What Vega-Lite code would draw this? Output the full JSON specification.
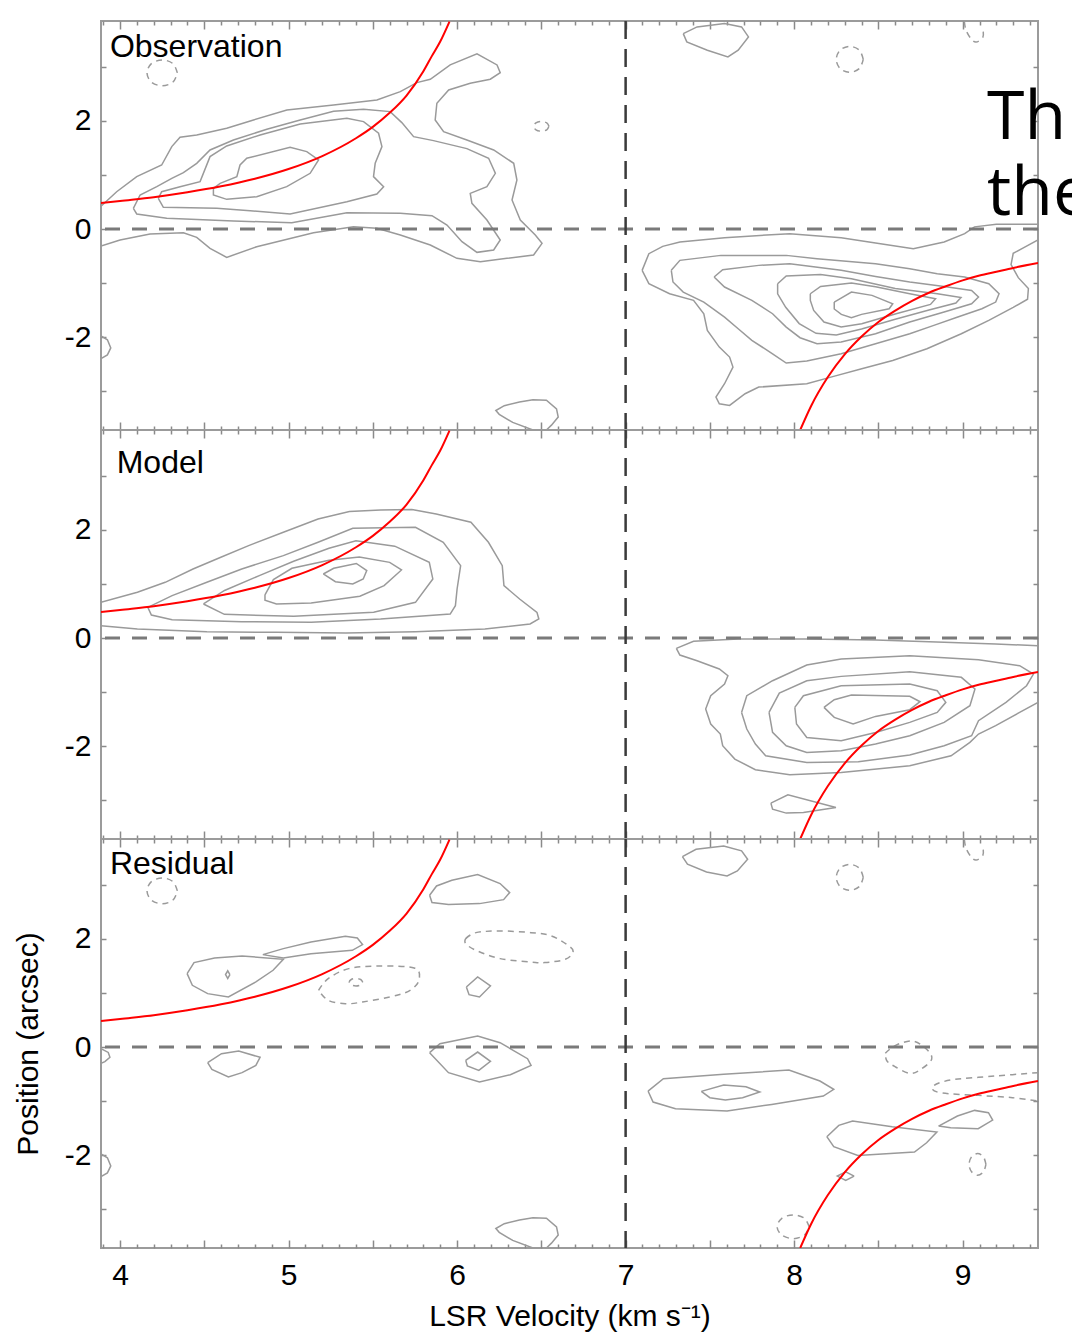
{
  "$schema": "https://vega.github.io/schema/vega-lite/v6.json",
  "padding": {"left": 12, "top": 18, "right": 0, "bottom": 0},
  "spacing": 0,
  "bounds": "flush",
  "config": {
    "view": {"stroke": "#9b9b9b", "strokeWidth": 2},
    "axis": {
      "domain": false, "grid": false,
      "tickColor": "#8a8a8a", "tickWidth": 1.5,
      "labelFont": "Liberation Sans", "labelFontSize": 30, "labelColor": "#000000",
      "titleFont": "Liberation Sans", "titleFontSize": 30, "titleFontWeight": "normal", "titleColor": "#000000"
    },
    "text": {"font": "Liberation Sans"}
  },
  "datasets": {
    "curve": [
      {"b": "blue", "v": 3.887, "p": 0.48}, {"b": "blue", "v": 4.0, "p": 0.52}, {"b": "blue", "v": 4.2, "p": 0.59},
      {"b": "blue", "v": 4.4, "p": 0.68}, {"b": "blue", "v": 4.6, "p": 0.79}, {"b": "blue", "v": 4.8, "p": 0.93},
      {"b": "blue", "v": 5.0, "p": 1.11}, {"b": "blue", "v": 5.2, "p": 1.35}, {"b": "blue", "v": 5.4, "p": 1.68},
      {"b": "blue", "v": 5.5, "p": 1.89}, {"b": "blue", "v": 5.6, "p": 2.15}, {"b": "blue", "v": 5.7, "p": 2.47},
      {"b": "blue", "v": 5.8, "p": 2.92}, {"b": "blue", "v": 5.85, "p": 3.2}, {"b": "blue", "v": 5.9, "p": 3.47},
      {"b": "blue", "v": 5.955, "p": 3.84},
      {"b": "red", "v": 8.036, "p": -3.72}, {"b": "red", "v": 8.1, "p": -3.28}, {"b": "red", "v": 8.2, "p": -2.74},
      {"b": "red", "v": 8.3, "p": -2.32}, {"b": "red", "v": 8.4, "p": -1.99}, {"b": "red", "v": 8.5, "p": -1.72},
      {"b": "red", "v": 8.6, "p": -1.51}, {"b": "red", "v": 8.7, "p": -1.33}, {"b": "red", "v": 8.8, "p": -1.18},
      {"b": "red", "v": 8.9, "p": -1.06}, {"b": "red", "v": 9.0, "p": -0.95}, {"b": "red", "v": 9.1, "p": -0.86},
      {"b": "red", "v": 9.2, "p": -0.79}, {"b": "red", "v": 9.3, "p": -0.72}, {"b": "red", "v": 9.447, "p": -0.63}
    ],
    "obs_solid": [
      {"c": "L1", "v": 3.887, "p": 0.42}, {"c": "L1", "v": 3.98, "p": 0.69}, {"c": "L1", "v": 4.099, "p": 0.97},
      {"c": "L1", "v": 4.247, "p": 1.185}, {"c": "L1", "v": 4.307, "p": 1.525}, {"c": "L1", "v": 4.356, "p": 1.698},
      {"c": "L1", "v": 4.455, "p": 1.741}, {"c": "L1", "v": 4.633, "p": 1.864}, {"c": "L1", "v": 4.792, "p": 2.019},
      {"c": "L1", "v": 4.99, "p": 2.204}, {"c": "L1", "v": 5.267, "p": 2.296}, {"c": "L1", "v": 5.524, "p": 2.389},
      {"c": "L1", "v": 5.663, "p": 2.543}, {"c": "L1", "v": 5.761, "p": 2.71}, {"c": "L1", "v": 5.841, "p": 2.772},
      {"c": "L1", "v": 5.959, "p": 3.037}, {"c": "L1", "v": 6.118, "p": 3.241}, {"c": "L1", "v": 6.237, "p": 3.037},
      {"c": "L1", "v": 6.256, "p": 2.895}, {"c": "L1", "v": 6.197, "p": 2.772}, {"c": "L1", "v": 6.078, "p": 2.698},
      {"c": "L1", "v": 5.95, "p": 2.574}, {"c": "L1", "v": 5.88, "p": 2.327}, {"c": "L1", "v": 5.87, "p": 2.019},
      {"c": "L1", "v": 5.92, "p": 1.802}, {"c": "L1", "v": 6.058, "p": 1.648}, {"c": "L1", "v": 6.217, "p": 1.463},
      {"c": "L1", "v": 6.336, "p": 1.216}, {"c": "L1", "v": 6.355, "p": 0.907}, {"c": "L1", "v": 6.326, "p": 0.537},
      {"c": "L1", "v": 6.375, "p": 0.167}, {"c": "L1", "v": 6.464, "p": -0.111}, {"c": "L1", "v": 6.504, "p": -0.265},
      {"c": "L1", "v": 6.454, "p": -0.481}, {"c": "L1", "v": 6.296, "p": -0.543}, {"c": "L1", "v": 6.138, "p": -0.605},
      {"c": "L1", "v": 5.999, "p": -0.543}, {"c": "L1", "v": 5.841, "p": -0.296}, {"c": "L1", "v": 5.663, "p": -0.111},
      {"c": "L1", "v": 5.524, "p": 0.012}, {"c": "L1", "v": 5.385, "p": 0.043}, {"c": "L1", "v": 5.148, "p": -0.068},
      {"c": "L1", "v": 4.811, "p": -0.327}, {"c": "L1", "v": 4.633, "p": -0.525}, {"c": "L1", "v": 4.534, "p": -0.358},
      {"c": "L1", "v": 4.455, "p": -0.154}, {"c": "L1", "v": 4.376, "p": -0.068}, {"c": "L1", "v": 4.178, "p": -0.093},
      {"c": "L1", "v": 4.0, "p": -0.204}, {"c": "L1", "v": 3.887, "p": -0.315},

      {"c": "L2", "v": 4.079, "p": 0.383}, {"c": "L2", "v": 4.119, "p": 0.63}, {"c": "L2", "v": 4.218, "p": 0.784},
      {"c": "L2", "v": 4.307, "p": 0.938}, {"c": "L2", "v": 4.376, "p": 1.043}, {"c": "L2", "v": 4.455, "p": 1.216},
      {"c": "L2", "v": 4.534, "p": 1.463}, {"c": "L2", "v": 4.673, "p": 1.648}, {"c": "L2", "v": 4.871, "p": 1.846},
      {"c": "L2", "v": 5.069, "p": 2.019}, {"c": "L2", "v": 5.267, "p": 2.179}, {"c": "L2", "v": 5.445, "p": 2.216},
      {"c": "L2", "v": 5.603, "p": 2.173}, {"c": "L2", "v": 5.672, "p": 1.969}, {"c": "L2", "v": 5.742, "p": 1.71},
      {"c": "L2", "v": 5.86, "p": 1.636}, {"c": "L2", "v": 6.058, "p": 1.488}, {"c": "L2", "v": 6.187, "p": 1.309},
      {"c": "L2", "v": 6.227, "p": 1.031}, {"c": "L2", "v": 6.177, "p": 0.784}, {"c": "L2", "v": 6.078, "p": 0.66},
      {"c": "L2", "v": 6.088, "p": 0.475}, {"c": "L2", "v": 6.177, "p": 0.167}, {"c": "L2", "v": 6.256, "p": -0.204},
      {"c": "L2", "v": 6.217, "p": -0.389}, {"c": "L2", "v": 6.118, "p": -0.432}, {"c": "L2", "v": 6.029, "p": -0.235},
      {"c": "L2", "v": 5.94, "p": 0.074}, {"c": "L2", "v": 5.851, "p": 0.247}, {"c": "L2", "v": 5.663, "p": 0.29},
      {"c": "L2", "v": 5.346, "p": 0.302}, {"c": "L2", "v": 5.019, "p": 0.117}, {"c": "L2", "v": 4.673, "p": 0.148},
      {"c": "L2", "v": 4.277, "p": 0.198}, {"c": "L2", "v": 4.099, "p": 0.278}, {"c": "L2", "v": 4.079, "p": 0.383},

      {"c": "L3", "v": 4.227, "p": 0.568}, {"c": "L3", "v": 4.247, "p": 0.691}, {"c": "L3", "v": 4.356, "p": 0.784},
      {"c": "L3", "v": 4.475, "p": 0.877}, {"c": "L3", "v": 4.534, "p": 1.34}, {"c": "L3", "v": 4.633, "p": 1.537},
      {"c": "L3", "v": 4.831, "p": 1.741}, {"c": "L3", "v": 5.069, "p": 1.944}, {"c": "L3", "v": 5.346, "p": 2.049},
      {"c": "L3", "v": 5.445, "p": 1.988}, {"c": "L3", "v": 5.534, "p": 1.772}, {"c": "L3", "v": 5.554, "p": 1.525},
      {"c": "L3", "v": 5.514, "p": 1.216}, {"c": "L3", "v": 5.504, "p": 0.969}, {"c": "L3", "v": 5.564, "p": 0.784},
      {"c": "L3", "v": 5.524, "p": 0.648}, {"c": "L3", "v": 5.346, "p": 0.506}, {"c": "L3", "v": 5.009, "p": 0.278},
      {"c": "L3", "v": 4.772, "p": 0.34}, {"c": "L3", "v": 4.574, "p": 0.383}, {"c": "L3", "v": 4.257, "p": 0.401},
      {"c": "L3", "v": 4.227, "p": 0.568},

      {"c": "L4", "v": 4.554, "p": 0.753}, {"c": "L4", "v": 4.594, "p": 0.846}, {"c": "L4", "v": 4.693, "p": 0.969},
      {"c": "L4", "v": 4.712, "p": 1.185}, {"c": "L4", "v": 4.752, "p": 1.309}, {"c": "L4", "v": 5.009, "p": 1.512},
      {"c": "L4", "v": 5.108, "p": 1.432}, {"c": "L4", "v": 5.178, "p": 1.278}, {"c": "L4", "v": 5.128, "p": 1.031},
      {"c": "L4", "v": 4.989, "p": 0.784}, {"c": "L4", "v": 4.811, "p": 0.599}, {"c": "L4", "v": 4.633, "p": 0.549},
      {"c": "L4", "v": 4.554, "p": 0.63}, {"c": "L4", "v": 4.554, "p": 0.753},

      {"c": "R1", "v": 7.098, "p": -0.765}, {"c": "R1", "v": 7.138, "p": -0.457}, {"c": "R1", "v": 7.22, "p": -0.321},
      {"c": "R1", "v": 7.322, "p": -0.241}, {"c": "R1", "v": 7.587, "p": -0.16}, {"c": "R1", "v": 7.974, "p": -0.086},
      {"c": "R1", "v": 8.279, "p": -0.16}, {"c": "R1", "v": 8.483, "p": -0.259}, {"c": "R1", "v": 8.707, "p": -0.364},
      {"c": "R1", "v": 8.89, "p": -0.241}, {"c": "R1", "v": 9.012, "p": -0.086}, {"c": "R1", "v": 9.07, "p": 0.04},
      {"c": "R1", "v": 9.2, "p": 0.09}, {"c": "R1", "v": 9.447, "p": 0.09}, {"c": "R1", "v": 9.447, "p": -0.2},
      {"c": "R1", "v": 9.36, "p": -0.35}, {"c": "R1", "v": 9.3, "p": -0.45}, {"c": "R1", "v": 9.287, "p": -0.66},
      {"c": "R1", "v": 9.33, "p": -0.9}, {"c": "R1", "v": 9.39, "p": -1.1}, {"c": "R1", "v": 9.385, "p": -1.3},
      {"c": "R1", "v": 9.3, "p": -1.45}, {"c": "R1", "v": 9.155, "p": -1.691}, {"c": "R1", "v": 8.992, "p": -1.938},
      {"c": "R1", "v": 8.788, "p": -2.216}, {"c": "R1", "v": 8.585, "p": -2.432}, {"c": "R1", "v": 8.401, "p": -2.586},
      {"c": "R1", "v": 8.218, "p": -2.741}, {"c": "R1", "v": 8.075, "p": -2.864}, {"c": "R1", "v": 7.79, "p": -2.926},
      {"c": "R1", "v": 7.709, "p": -3.049}, {"c": "R1", "v": 7.617, "p": -3.265}, {"c": "R1", "v": 7.556, "p": -3.235},
      {"c": "R1", "v": 7.536, "p": -3.111}, {"c": "R1", "v": 7.587, "p": -2.864}, {"c": "R1", "v": 7.637, "p": -2.556},
      {"c": "R1", "v": 7.617, "p": -2.37}, {"c": "R1", "v": 7.556, "p": -2.185}, {"c": "R1", "v": 7.485, "p": -1.877},
      {"c": "R1", "v": 7.464, "p": -1.568}, {"c": "R1", "v": 7.403, "p": -1.321}, {"c": "R1", "v": 7.261, "p": -1.198},
      {"c": "R1", "v": 7.138, "p": -1.012}, {"c": "R1", "v": 7.098, "p": -0.765},

      {"c": "R2", "v": 7.271, "p": -0.765}, {"c": "R2", "v": 7.322, "p": -0.58}, {"c": "R2", "v": 7.566, "p": -0.488},
      {"c": "R2", "v": 7.953, "p": -0.488}, {"c": "R2", "v": 8.136, "p": -0.549}, {"c": "R2", "v": 8.483, "p": -0.642},
      {"c": "R2", "v": 8.686, "p": -0.735}, {"c": "R2", "v": 8.849, "p": -0.827}, {"c": "R2", "v": 9.012, "p": -0.889},
      {"c": "R2", "v": 9.155, "p": -1.012}, {"c": "R2", "v": 9.216, "p": -1.198}, {"c": "R2", "v": 9.196, "p": -1.352},
      {"c": "R2", "v": 9.114, "p": -1.475}, {"c": "R2", "v": 8.971, "p": -1.63}, {"c": "R2", "v": 8.829, "p": -1.784},
      {"c": "R2", "v": 8.686, "p": -1.938}, {"c": "R2", "v": 8.483, "p": -2.123}, {"c": "R2", "v": 8.279, "p": -2.309},
      {"c": "R2", "v": 8.075, "p": -2.444}, {"c": "R2", "v": 7.953, "p": -2.481}, {"c": "R2", "v": 7.872, "p": -2.309},
      {"c": "R2", "v": 7.749, "p": -2.062}, {"c": "R2", "v": 7.668, "p": -1.846}, {"c": "R2", "v": 7.587, "p": -1.63},
      {"c": "R2", "v": 7.464, "p": -1.352}, {"c": "R2", "v": 7.342, "p": -1.167}, {"c": "R2", "v": 7.281, "p": -0.981},
      {"c": "R2", "v": 7.271, "p": -0.765},

      {"c": "R3", "v": 7.525, "p": -0.889}, {"c": "R3", "v": 7.576, "p": -0.753}, {"c": "R3", "v": 7.79, "p": -0.673},
      {"c": "R3", "v": 7.974, "p": -0.642}, {"c": "R3", "v": 8.279, "p": -0.765}, {"c": "R3", "v": 8.483, "p": -0.877},
      {"c": "R3", "v": 8.686, "p": -0.981}, {"c": "R3", "v": 8.89, "p": -1.062}, {"c": "R3", "v": 9.053, "p": -1.136},
      {"c": "R3", "v": 9.094, "p": -1.259}, {"c": "R3", "v": 9.053, "p": -1.383}, {"c": "R3", "v": 8.89, "p": -1.537},
      {"c": "R3", "v": 8.686, "p": -1.722}, {"c": "R3", "v": 8.483, "p": -1.938}, {"c": "R3", "v": 8.279, "p": -2.093},
      {"c": "R3", "v": 8.136, "p": -2.123}, {"c": "R3", "v": 8.035, "p": -2.012}, {"c": "R3", "v": 7.953, "p": -1.815},
      {"c": "R3", "v": 7.872, "p": -1.568}, {"c": "R3", "v": 7.749, "p": -1.321}, {"c": "R3", "v": 7.587, "p": -1.074},
      {"c": "R3", "v": 7.525, "p": -0.889},

      {"c": "R4", "v": 7.902, "p": -1.012}, {"c": "R4", "v": 7.953, "p": -0.87}, {"c": "R4", "v": 8.157, "p": -0.84},
      {"c": "R4", "v": 8.34, "p": -0.92}, {"c": "R4", "v": 8.6, "p": -1.1}, {"c": "R4", "v": 8.85, "p": -1.2},
      {"c": "R4", "v": 8.99, "p": -1.27}, {"c": "R4", "v": 8.96, "p": -1.37}, {"c": "R4", "v": 8.8, "p": -1.5},
      {"c": "R4", "v": 8.6, "p": -1.67}, {"c": "R4", "v": 8.4, "p": -1.85}, {"c": "R4", "v": 8.25, "p": -1.96},
      {"c": "R4", "v": 8.13, "p": -1.93}, {"c": "R4", "v": 8.03, "p": -1.75}, {"c": "R4", "v": 7.95, "p": -1.45},
      {"c": "R4", "v": 7.902, "p": -1.2}, {"c": "R4", "v": 7.902, "p": -1.012},

      {"c": "R5", "v": 8.096, "p": -1.198}, {"c": "R5", "v": 8.157, "p": -1.062}, {"c": "R5", "v": 8.34, "p": -1.0},
      {"c": "R5", "v": 8.483, "p": -1.07}, {"c": "R5", "v": 8.686, "p": -1.2}, {"c": "R5", "v": 8.839, "p": -1.29},
      {"c": "R5", "v": 8.809, "p": -1.395}, {"c": "R5", "v": 8.605, "p": -1.568}, {"c": "R5", "v": 8.401, "p": -1.753},
      {"c": "R5", "v": 8.279, "p": -1.815}, {"c": "R5", "v": 8.177, "p": -1.722}, {"c": "R5", "v": 8.116, "p": -1.506},
      {"c": "R5", "v": 8.096, "p": -1.321}, {"c": "R5", "v": 8.096, "p": -1.198},

      {"c": "R6", "v": 8.238, "p": -1.352}, {"c": "R6", "v": 8.34, "p": -1.167}, {"c": "R6", "v": 8.462, "p": -1.228},
      {"c": "R6", "v": 8.585, "p": -1.383}, {"c": "R6", "v": 8.564, "p": -1.475}, {"c": "R6", "v": 8.4, "p": -1.58},
      {"c": "R6", "v": 8.34, "p": -1.64}, {"c": "R6", "v": 8.28, "p": -1.58}, {"c": "R6", "v": 8.238, "p": -1.48},
      {"c": "R6", "v": 8.238, "p": -1.352},

      {"c": "T1", "v": 7.342, "p": 3.617}, {"c": "T1", "v": 7.424, "p": 3.741}, {"c": "T1", "v": 7.587, "p": 3.802},
      {"c": "T1", "v": 7.688, "p": 3.741}, {"c": "T1", "v": 7.729, "p": 3.556}, {"c": "T1", "v": 7.668, "p": 3.309},
      {"c": "T1", "v": 7.607, "p": 3.185}, {"c": "T1", "v": 7.485, "p": 3.309}, {"c": "T1", "v": 7.363, "p": 3.463},
      {"c": "T1", "v": 7.342, "p": 3.617},

      {"c": "S1", "v": 6.45, "p": -3.72}, {"c": "S1", "v": 6.33, "p": -3.58}, {"c": "S1", "v": 6.25, "p": -3.43},
      {"c": "S1", "v": 6.23, "p": -3.36}, {"c": "S1", "v": 6.28, "p": -3.27}, {"c": "S1", "v": 6.37, "p": -3.2},
      {"c": "S1", "v": 6.45, "p": -3.16}, {"c": "S1", "v": 6.53, "p": -3.17}, {"c": "S1", "v": 6.59, "p": -3.33},
      {"c": "S1", "v": 6.6, "p": -3.48}, {"c": "S1", "v": 6.56, "p": -3.63}, {"c": "S1", "v": 6.53, "p": -3.72},

      {"c": "E1", "v": 3.887, "p": -1.98}, {"c": "E1", "v": 3.925, "p": -2.05}, {"c": "E1", "v": 3.945, "p": -2.2},
      {"c": "E1", "v": 3.925, "p": -2.33}, {"c": "E1", "v": 3.887, "p": -2.4}
    ],
    "obs_dashed": [
      {"c": "A", "v": 4.34, "p": 2.89}, {"c": "A", "v": 4.314, "p": 3.06}, {"c": "A", "v": 4.25, "p": 3.13},
      {"c": "A", "v": 4.186, "p": 3.06}, {"c": "A", "v": 4.16, "p": 2.89}, {"c": "A", "v": 4.186, "p": 2.72},
      {"c": "A", "v": 4.25, "p": 2.65}, {"c": "A", "v": 4.314, "p": 2.72}, {"c": "A", "v": 4.34, "p": 2.89},
      {"c": "B", "v": 8.41, "p": 3.14}, {"c": "B", "v": 8.387, "p": 3.31}, {"c": "B", "v": 8.33, "p": 3.38},
      {"c": "B", "v": 8.273, "p": 3.31}, {"c": "B", "v": 8.25, "p": 3.14}, {"c": "B", "v": 8.273, "p": 2.97},
      {"c": "B", "v": 8.33, "p": 2.9}, {"c": "B", "v": 8.387, "p": 2.97}, {"c": "B", "v": 8.41, "p": 3.14},
      {"c": "C", "v": 6.545, "p": 1.9}, {"c": "C", "v": 6.532, "p": 1.964}, {"c": "C", "v": 6.5, "p": 1.99},
      {"c": "C", "v": 6.468, "p": 1.964}, {"c": "C", "v": 6.455, "p": 1.9}, {"c": "C", "v": 6.468, "p": 1.836},
      {"c": "C", "v": 6.5, "p": 1.81}, {"c": "C", "v": 6.532, "p": 1.836}, {"c": "C", "v": 6.545, "p": 1.9},
      {"c": "TR", "v": 9.01, "p": 3.84}, {"c": "TR", "v": 9.02, "p": 3.68}, {"c": "TR", "v": 9.05, "p": 3.52},
      {"c": "TR", "v": 9.08, "p": 3.46}, {"c": "TR", "v": 9.12, "p": 3.55}, {"c": "TR", "v": 9.12, "p": 3.7}
    ],
    "mod_solid": [
      {"c": "M1", "v": 3.887, "p": 0.66}, {"c": "M1", "v": 4.103, "p": 0.846}, {"c": "M1", "v": 4.268, "p": 1.031},
      {"c": "M1", "v": 4.433, "p": 1.278}, {"c": "M1", "v": 4.598, "p": 1.494}, {"c": "M1", "v": 4.763, "p": 1.71},
      {"c": "M1", "v": 4.969, "p": 1.957}, {"c": "M1", "v": 5.175, "p": 2.204}, {"c": "M1", "v": 5.361, "p": 2.34},
      {"c": "M1", "v": 5.546, "p": 2.37}, {"c": "M1", "v": 5.732, "p": 2.377}, {"c": "M1", "v": 5.876, "p": 2.296},
      {"c": "M1", "v": 6.082, "p": 2.142}, {"c": "M1", "v": 6.186, "p": 1.772}, {"c": "M1", "v": 6.268, "p": 1.34},
      {"c": "M1", "v": 6.278, "p": 0.969}, {"c": "M1", "v": 6.371, "p": 0.722}, {"c": "M1", "v": 6.474, "p": 0.475},
      {"c": "M1", "v": 6.485, "p": 0.352}, {"c": "M1", "v": 6.433, "p": 0.259}, {"c": "M1", "v": 6.165, "p": 0.167},
      {"c": "M1", "v": 5.753, "p": 0.117}, {"c": "M1", "v": 5.34, "p": 0.093}, {"c": "M1", "v": 4.928, "p": 0.105},
      {"c": "M1", "v": 4.515, "p": 0.117}, {"c": "M1", "v": 4.103, "p": 0.167}, {"c": "M1", "v": 3.887, "p": 0.228},

      {"c": "M2", "v": 4.165, "p": 0.568}, {"c": "M2", "v": 4.309, "p": 0.784}, {"c": "M2", "v": 4.515, "p": 1.031},
      {"c": "M2", "v": 4.722, "p": 1.278}, {"c": "M2", "v": 4.969, "p": 1.525}, {"c": "M2", "v": 5.175, "p": 1.772},
      {"c": "M2", "v": 5.381, "p": 2.031}, {"c": "M2", "v": 5.753, "p": 2.049}, {"c": "M2", "v": 5.918, "p": 1.772},
      {"c": "M2", "v": 6.021, "p": 1.34}, {"c": "M2", "v": 6.0, "p": 0.907}, {"c": "M2", "v": 5.99, "p": 0.599},
      {"c": "M2", "v": 5.959, "p": 0.444}, {"c": "M2", "v": 5.546, "p": 0.352}, {"c": "M2", "v": 5.134, "p": 0.29},
      {"c": "M2", "v": 4.722, "p": 0.302}, {"c": "M2", "v": 4.309, "p": 0.34}, {"c": "M2", "v": 4.186, "p": 0.426},
      {"c": "M2", "v": 4.165, "p": 0.568},

      {"c": "M3", "v": 4.495, "p": 0.63}, {"c": "M3", "v": 4.62, "p": 0.88}, {"c": "M3", "v": 4.83, "p": 1.16},
      {"c": "M3", "v": 5.03, "p": 1.42}, {"c": "M3", "v": 5.24, "p": 1.66}, {"c": "M3", "v": 5.4, "p": 1.8},
      {"c": "M3", "v": 5.63, "p": 1.7}, {"c": "M3", "v": 5.835, "p": 1.401}, {"c": "M3", "v": 5.856, "p": 1.093},
      {"c": "M3", "v": 5.753, "p": 0.66}, {"c": "M3", "v": 5.505, "p": 0.475}, {"c": "M3", "v": 5.031, "p": 0.401},
      {"c": "M3", "v": 4.619, "p": 0.438}, {"c": "M3", "v": 4.495, "p": 0.63},

      {"c": "M4", "v": 4.86, "p": 0.8}, {"c": "M4", "v": 4.91, "p": 1.08}, {"c": "M4", "v": 5.02, "p": 1.29},
      {"c": "M4", "v": 5.24, "p": 1.44}, {"c": "M4", "v": 5.42, "p": 1.5}, {"c": "M4", "v": 5.6, "p": 1.4},
      {"c": "M4", "v": 5.67, "p": 1.26}, {"c": "M4", "v": 5.567, "p": 0.969}, {"c": "M4", "v": 5.423, "p": 0.772},
      {"c": "M4", "v": 5.134, "p": 0.65}, {"c": "M4", "v": 4.928, "p": 0.63}, {"c": "M4", "v": 4.86, "p": 0.7},
      {"c": "M4", "v": 4.86, "p": 0.8},

      {"c": "M5", "v": 5.206, "p": 1.185}, {"c": "M5", "v": 5.268, "p": 1.29}, {"c": "M5", "v": 5.402, "p": 1.38},
      {"c": "M5", "v": 5.464, "p": 1.247}, {"c": "M5", "v": 5.443, "p": 1.093}, {"c": "M5", "v": 5.381, "p": 1.0},
      {"c": "M5", "v": 5.278, "p": 1.043}, {"c": "M5", "v": 5.206, "p": 1.185},

      {"c": "N1", "v": 7.301, "p": -0.191}, {"c": "N1", "v": 7.403, "p": -0.062}, {"c": "N1", "v": 7.668, "p": -0.019},
      {"c": "N1", "v": 8.075, "p": -0.019}, {"c": "N1", "v": 8.483, "p": -0.037}, {"c": "N1", "v": 8.89, "p": -0.08},
      {"c": "N1", "v": 9.196, "p": -0.111}, {"c": "N1", "v": 9.447, "p": -0.142}, {"c": "N1", "v": 9.447, "p": -1.191},
      {"c": "N1", "v": 9.338, "p": -1.377}, {"c": "N1", "v": 9.196, "p": -1.623}, {"c": "N1", "v": 9.094, "p": -1.778},
      {"c": "N1", "v": 9.043, "p": -1.932}, {"c": "N1", "v": 8.931, "p": -2.179}, {"c": "N1", "v": 8.686, "p": -2.364},
      {"c": "N1", "v": 8.279, "p": -2.488}, {"c": "N1", "v": 7.974, "p": -2.531}, {"c": "N1", "v": 7.77, "p": -2.438},
      {"c": "N1", "v": 7.648, "p": -2.241}, {"c": "N1", "v": 7.576, "p": -1.994}, {"c": "N1", "v": 7.562, "p": -1.778},
      {"c": "N1", "v": 7.505, "p": -1.593}, {"c": "N1", "v": 7.475, "p": -1.315}, {"c": "N1", "v": 7.505, "p": -1.068},
      {"c": "N1", "v": 7.587, "p": -0.852}, {"c": "N1", "v": 7.607, "p": -0.698}, {"c": "N1", "v": 7.556, "p": -0.574},
      {"c": "N1", "v": 7.424, "p": -0.42}, {"c": "N1", "v": 7.322, "p": -0.315}, {"c": "N1", "v": 7.301, "p": -0.191},

      {"c": "N2", "v": 7.688, "p": -1.377}, {"c": "N2", "v": 7.719, "p": -1.068}, {"c": "N2", "v": 7.872, "p": -0.79},
      {"c": "N2", "v": 8.075, "p": -0.5}, {"c": "N2", "v": 8.279, "p": -0.389}, {"c": "N2", "v": 8.686, "p": -0.327},
      {"c": "N2", "v": 9.094, "p": -0.401}, {"c": "N2", "v": 9.338, "p": -0.512}, {"c": "N2", "v": 9.42, "p": -0.667},
      {"c": "N2", "v": 9.379, "p": -0.883}, {"c": "N2", "v": 9.257, "p": -1.191}, {"c": "N2", "v": 9.094, "p": -1.531},
      {"c": "N2", "v": 9.053, "p": -1.809}, {"c": "N2", "v": 8.89, "p": -1.994}, {"c": "N2", "v": 8.686, "p": -2.167},
      {"c": "N2", "v": 8.381, "p": -2.29}, {"c": "N2", "v": 8.075, "p": -2.302}, {"c": "N2", "v": 7.831, "p": -2.179},
      {"c": "N2", "v": 7.77, "p": -1.963}, {"c": "N2", "v": 7.719, "p": -1.685}, {"c": "N2", "v": 7.688, "p": -1.377},

      {"c": "N3", "v": 7.851, "p": -1.377}, {"c": "N3", "v": 7.912, "p": -1.019}, {"c": "N3", "v": 8.075, "p": -0.79},
      {"c": "N3", "v": 8.279, "p": -0.71}, {"c": "N3", "v": 8.686, "p": -0.623}, {"c": "N3", "v": 8.992, "p": -0.728},
      {"c": "N3", "v": 9.073, "p": -0.944}, {"c": "N3", "v": 9.043, "p": -1.253}, {"c": "N3", "v": 8.89, "p": -1.562},
      {"c": "N3", "v": 8.686, "p": -1.809}, {"c": "N3", "v": 8.483, "p": -1.963}, {"c": "N3", "v": 8.279, "p": -2.086},
      {"c": "N3", "v": 8.075, "p": -2.117}, {"c": "N3", "v": 7.953, "p": -1.994}, {"c": "N3", "v": 7.872, "p": -1.747},
      {"c": "N3", "v": 7.851, "p": -1.377},

      {"c": "N4", "v": 8.004, "p": -1.284}, {"c": "N4", "v": 8.055, "p": -1.068}, {"c": "N4", "v": 8.279, "p": -0.883},
      {"c": "N4", "v": 8.686, "p": -0.852}, {"c": "N4", "v": 8.849, "p": -0.975}, {"c": "N4", "v": 8.9, "p": -1.191},
      {"c": "N4", "v": 8.849, "p": -1.377}, {"c": "N4", "v": 8.686, "p": -1.562}, {"c": "N4", "v": 8.483, "p": -1.747},
      {"c": "N4", "v": 8.279, "p": -1.901}, {"c": "N4", "v": 8.075, "p": -1.84}, {"c": "N4", "v": 8.014, "p": -1.593},
      {"c": "N4", "v": 8.004, "p": -1.284},

      {"c": "N5", "v": 8.177, "p": -1.284}, {"c": "N5", "v": 8.238, "p": -1.142}, {"c": "N5", "v": 8.34, "p": -1.056},
      {"c": "N5", "v": 8.686, "p": -1.08}, {"c": "N5", "v": 8.747, "p": -1.179}, {"c": "N5", "v": 8.686, "p": -1.327},
      {"c": "N5", "v": 8.483, "p": -1.451}, {"c": "N5", "v": 8.35, "p": -1.593}, {"c": "N5", "v": 8.238, "p": -1.469},
      {"c": "N5", "v": 8.177, "p": -1.284},

      {"c": "N6", "v": 7.862, "p": -3.056}, {"c": "N6", "v": 7.963, "p": -2.901}, {"c": "N6", "v": 8.248, "p": -3.136},
      {"c": "N6", "v": 8.055, "p": -3.228}, {"c": "N6", "v": 7.953, "p": -3.241}, {"c": "N6", "v": 7.872, "p": -3.167},
      {"c": "N6", "v": 7.862, "p": -3.056}
    ],
    "res_solid": [
      {"c": "Q1", "v": 5.837, "p": 2.809}, {"c": "Q1", "v": 5.878, "p": 2.981}, {"c": "Q1", "v": 5.969, "p": 3.086},
      {"c": "Q1", "v": 6.122, "p": 3.191}, {"c": "Q1", "v": 6.255, "p": 3.025}, {"c": "Q1", "v": 6.312, "p": 2.858},
      {"c": "Q1", "v": 6.276, "p": 2.728}, {"c": "Q1", "v": 6.133, "p": 2.654}, {"c": "Q1", "v": 5.949, "p": 2.636},
      {"c": "Q1", "v": 5.851, "p": 2.673}, {"c": "Q1", "v": 5.837, "p": 2.809},

      {"c": "Q2", "v": 4.847, "p": 1.71}, {"c": "Q2", "v": 4.969, "p": 1.821}, {"c": "Q2", "v": 5.133, "p": 1.944},
      {"c": "Q2", "v": 5.337, "p": 2.049}, {"c": "Q2", "v": 5.408, "p": 2.019}, {"c": "Q2", "v": 5.439, "p": 1.895},
      {"c": "Q2", "v": 5.378, "p": 1.79}, {"c": "Q2", "v": 5.133, "p": 1.728}, {"c": "Q2", "v": 4.969, "p": 1.648},
      {"c": "Q2", "v": 4.847, "p": 1.71},

      {"c": "Q3", "v": 4.398, "p": 1.358}, {"c": "Q3", "v": 4.439, "p": 1.562}, {"c": "Q3", "v": 4.561, "p": 1.648},
      {"c": "Q3", "v": 4.724, "p": 1.685}, {"c": "Q3", "v": 4.969, "p": 1.623}, {"c": "Q3", "v": 4.908, "p": 1.42},
      {"c": "Q3", "v": 4.806, "p": 1.204}, {"c": "Q3", "v": 4.643, "p": 0.926}, {"c": "Q3", "v": 4.52, "p": 0.988},
      {"c": "Q3", "v": 4.429, "p": 1.142}, {"c": "Q3", "v": 4.398, "p": 1.358},

      {"c": "Q4", "v": 4.652, "p": 1.34}, {"c": "Q4", "v": 4.639, "p": 1.41}, {"c": "Q4", "v": 4.626, "p": 1.34},
      {"c": "Q4", "v": 4.639, "p": 1.27}, {"c": "Q4", "v": 4.652, "p": 1.34},

      {"c": "Q5", "v": 6.055, "p": 1.111}, {"c": "Q5", "v": 6.122, "p": 1.296}, {"c": "Q5", "v": 6.198, "p": 1.13},
      {"c": "Q5", "v": 6.133, "p": 0.926}, {"c": "Q5", "v": 6.071, "p": 0.969}, {"c": "Q5", "v": 6.055, "p": 1.111},

      {"c": "Q6", "v": 5.837, "p": -0.105}, {"c": "Q6", "v": 5.898, "p": 0.062}, {"c": "Q6", "v": 6.122, "p": 0.204},
      {"c": "Q6", "v": 6.255, "p": 0.08}, {"c": "Q6", "v": 6.418, "p": -0.216}, {"c": "Q6", "v": 6.439, "p": -0.34},
      {"c": "Q6", "v": 6.316, "p": -0.512}, {"c": "Q6", "v": 6.133, "p": -0.648}, {"c": "Q6", "v": 5.949, "p": -0.475},
      {"c": "Q6", "v": 5.837, "p": -0.105},

      {"c": "Q7", "v": 6.051, "p": -0.247}, {"c": "Q7", "v": 6.122, "p": -0.093}, {"c": "Q7", "v": 6.198, "p": -0.265},
      {"c": "Q7", "v": 6.129, "p": -0.432}, {"c": "Q7", "v": 6.061, "p": -0.352}, {"c": "Q7", "v": 6.051, "p": -0.247},

      {"c": "Q8", "v": 4.52, "p": -0.29}, {"c": "Q8", "v": 4.602, "p": -0.123}, {"c": "Q8", "v": 4.704, "p": -0.074},
      {"c": "Q8", "v": 4.831, "p": -0.191}, {"c": "Q8", "v": 4.806, "p": -0.34}, {"c": "Q8", "v": 4.724, "p": -0.475},
      {"c": "Q8", "v": 4.643, "p": -0.556}, {"c": "Q8", "v": 4.545, "p": -0.414}, {"c": "Q8", "v": 4.52, "p": -0.29},

      {"c": "Q9", "v": 3.887, "p": -0.03}, {"c": "Q9", "v": 3.93, "p": -0.1}, {"c": "Q9", "v": 3.94, "p": -0.19},
      {"c": "Q9", "v": 3.91, "p": -0.27}, {"c": "Q9", "v": 3.887, "p": -0.3},

      {"c": "Q10", "v": 3.887, "p": -1.98}, {"c": "Q10", "v": 3.925, "p": -2.05}, {"c": "Q10", "v": 3.945, "p": -2.2},
      {"c": "Q10", "v": 3.925, "p": -2.33}, {"c": "Q10", "v": 3.887, "p": -2.4},

      {"c": "Q11", "v": 6.45, "p": -3.72}, {"c": "Q11", "v": 6.33, "p": -3.58}, {"c": "Q11", "v": 6.25, "p": -3.43},
      {"c": "Q11", "v": 6.23, "p": -3.36}, {"c": "Q11", "v": 6.28, "p": -3.27}, {"c": "Q11", "v": 6.37, "p": -3.2},
      {"c": "Q11", "v": 6.45, "p": -3.16}, {"c": "Q11", "v": 6.53, "p": -3.17}, {"c": "Q11", "v": 6.59, "p": -3.33},
      {"c": "Q11", "v": 6.6, "p": -3.48}, {"c": "Q11", "v": 6.56, "p": -3.63}, {"c": "Q11", "v": 6.53, "p": -3.72},

      {"c": "Q12", "v": 7.337, "p": 3.525}, {"c": "Q12", "v": 7.418, "p": 3.66}, {"c": "Q12", "v": 7.582, "p": 3.722},
      {"c": "Q12", "v": 7.688, "p": 3.63}, {"c": "Q12", "v": 7.724, "p": 3.475}, {"c": "Q12", "v": 7.663, "p": 3.259},
      {"c": "Q12", "v": 7.602, "p": 3.167}, {"c": "Q12", "v": 7.48, "p": 3.241}, {"c": "Q12", "v": 7.367, "p": 3.383},
      {"c": "Q12", "v": 7.337, "p": 3.525},

      {"c": "Q13", "v": 7.133, "p": -0.815}, {"c": "Q13", "v": 7.224, "p": -0.586}, {"c": "Q13", "v": 7.582, "p": -0.506},
      {"c": "Q13", "v": 7.969, "p": -0.426}, {"c": "Q13", "v": 8.153, "p": -0.63}, {"c": "Q13", "v": 8.235, "p": -0.784},
      {"c": "Q13", "v": 8.173, "p": -0.907}, {"c": "Q13", "v": 7.867, "p": -1.062}, {"c": "Q13", "v": 7.602, "p": -1.185},
      {"c": "Q13", "v": 7.296, "p": -1.142}, {"c": "Q13", "v": 7.163, "p": -1.019}, {"c": "Q13", "v": 7.133, "p": -0.815},

      {"c": "Q14", "v": 7.449, "p": -0.821}, {"c": "Q14", "v": 7.582, "p": -0.704}, {"c": "Q14", "v": 7.714, "p": -0.735},
      {"c": "Q14", "v": 7.796, "p": -0.833}, {"c": "Q14", "v": 7.694, "p": -0.938}, {"c": "Q14", "v": 7.592, "p": -0.981},
      {"c": "Q14", "v": 7.5, "p": -0.938}, {"c": "Q14", "v": 7.449, "p": -0.821},

      {"c": "Q15", "v": 8.194, "p": -1.66}, {"c": "Q15", "v": 8.265, "p": -1.451}, {"c": "Q15", "v": 8.347, "p": -1.37},
      {"c": "Q15", "v": 8.582, "p": -1.475}, {"c": "Q15", "v": 8.847, "p": -1.574}, {"c": "Q15", "v": 8.786, "p": -1.772},
      {"c": "Q15", "v": 8.714, "p": -1.944}, {"c": "Q15", "v": 8.378, "p": -2.006}, {"c": "Q15", "v": 8.235, "p": -1.846},
      {"c": "Q15", "v": 8.194, "p": -1.66},

      {"c": "Q16", "v": 8.857, "p": -1.463}, {"c": "Q16", "v": 8.969, "p": -1.278}, {"c": "Q16", "v": 9.071, "p": -1.173},
      {"c": "Q16", "v": 9.153, "p": -1.216}, {"c": "Q16", "v": 9.178, "p": -1.352}, {"c": "Q16", "v": 9.092, "p": -1.512},
      {"c": "Q16", "v": 8.929, "p": -1.494}, {"c": "Q16", "v": 8.857, "p": -1.463},

      {"c": "Q17", "v": 8.356, "p": -2.389}, {"c": "Q17", "v": 8.306, "p": -2.309}, {"c": "Q17", "v": 8.256, "p": -2.389},
      {"c": "Q17", "v": 8.306, "p": -2.469}, {"c": "Q17", "v": 8.356, "p": -2.389}
    ],
    "res_dashed": [
      {"c": "A", "v": 4.34, "p": 2.89}, {"c": "A", "v": 4.314, "p": 3.06}, {"c": "A", "v": 4.25, "p": 3.13},
      {"c": "A", "v": 4.186, "p": 3.06}, {"c": "A", "v": 4.16, "p": 2.89}, {"c": "A", "v": 4.186, "p": 2.72},
      {"c": "A", "v": 4.25, "p": 2.65}, {"c": "A", "v": 4.314, "p": 2.72}, {"c": "A", "v": 4.34, "p": 2.89},
      {"c": "B", "v": 8.41, "p": 3.14}, {"c": "B", "v": 8.387, "p": 3.31}, {"c": "B", "v": 8.33, "p": 3.38},
      {"c": "B", "v": 8.273, "p": 3.31}, {"c": "B", "v": 8.25, "p": 3.14}, {"c": "B", "v": 8.273, "p": 2.97},
      {"c": "B", "v": 8.33, "p": 2.9}, {"c": "B", "v": 8.387, "p": 2.97}, {"c": "B", "v": 8.41, "p": 3.14},
      {"c": "TR", "v": 9.01, "p": 3.84}, {"c": "TR", "v": 9.02, "p": 3.68}, {"c": "TR", "v": 9.05, "p": 3.52},
      {"c": "TR", "v": 9.08, "p": 3.46}, {"c": "TR", "v": 9.12, "p": 3.55}, {"c": "TR", "v": 9.12, "p": 3.7},
      {"c": "D1", "v": 6.051, "p": 2.006}, {"c": "D1", "v": 6.112, "p": 2.117}, {"c": "D1", "v": 6.255, "p": 2.148},
      {"c": "D1", "v": 6.438, "p": 2.117}, {"c": "D1", "v": 6.56, "p": 2.056}, {"c": "D1", "v": 6.663, "p": 1.87},
      {"c": "D1", "v": 6.688, "p": 1.759}, {"c": "D1", "v": 6.642, "p": 1.623}, {"c": "D1", "v": 6.52, "p": 1.562},
      {"c": "D1", "v": 6.438, "p": 1.574}, {"c": "D1", "v": 6.255, "p": 1.636}, {"c": "D1", "v": 6.112, "p": 1.79},
      {"c": "D1", "v": 6.051, "p": 1.914}, {"c": "D1", "v": 6.051, "p": 2.006},
      {"c": "D2", "v": 5.178, "p": 1.049}, {"c": "D2", "v": 5.235, "p": 1.265}, {"c": "D2", "v": 5.357, "p": 1.451},
      {"c": "D2", "v": 5.541, "p": 1.5}, {"c": "D2", "v": 5.745, "p": 1.463}, {"c": "D2", "v": 5.776, "p": 1.265},
      {"c": "D2", "v": 5.735, "p": 1.08}, {"c": "D2", "v": 5.643, "p": 0.957}, {"c": "D2", "v": 5.439, "p": 0.833},
      {"c": "D2", "v": 5.337, "p": 0.802}, {"c": "D2", "v": 5.235, "p": 0.864}, {"c": "D2", "v": 5.178, "p": 1.049},
      {"c": "D3", "v": 5.44, "p": 1.2}, {"c": "D3", "v": 5.428, "p": 1.25}, {"c": "D3", "v": 5.4, "p": 1.27},
      {"c": "D3", "v": 5.372, "p": 1.25}, {"c": "D3", "v": 5.36, "p": 1.2}, {"c": "D3", "v": 5.372, "p": 1.15},
      {"c": "D3", "v": 5.4, "p": 1.13}, {"c": "D3", "v": 5.428, "p": 1.15}, {"c": "D3", "v": 5.44, "p": 1.2},
      {"c": "D4", "v": 8.541, "p": -0.117}, {"c": "D4", "v": 8.602, "p": 0.031}, {"c": "D4", "v": 8.704, "p": 0.111},
      {"c": "D4", "v": 8.786, "p": -0.043}, {"c": "D4", "v": 8.816, "p": -0.228}, {"c": "D4", "v": 8.745, "p": -0.426},
      {"c": "D4", "v": 8.684, "p": -0.488}, {"c": "D4", "v": 8.602, "p": -0.37}, {"c": "D4", "v": 8.551, "p": -0.259},
      {"c": "D4", "v": 8.541, "p": -0.117},
      {"c": "D5", "v": 9.447, "p": -0.475}, {"c": "D5", "v": 9.194, "p": -0.537}, {"c": "D5", "v": 8.929, "p": -0.611},
      {"c": "D5", "v": 8.822, "p": -0.735}, {"c": "D5", "v": 8.867, "p": -0.846}, {"c": "D5", "v": 9.092, "p": -0.895},
      {"c": "D5", "v": 9.296, "p": -0.938}, {"c": "D5", "v": 9.447, "p": -1.0},
      {"c": "D6", "v": 9.138, "p": -2.173}, {"c": "D6", "v": 9.123, "p": -2.03}, {"c": "D6", "v": 9.088, "p": -1.973},
      {"c": "D6", "v": 9.053, "p": -2.03}, {"c": "D6", "v": 9.038, "p": -2.173}, {"c": "D6", "v": 9.053, "p": -2.31},
      {"c": "D6", "v": 9.088, "p": -2.373}, {"c": "D6", "v": 9.123, "p": -2.31}, {"c": "D6", "v": 9.138, "p": -2.173},
      {"c": "D7", "v": 8.089, "p": -3.327}, {"c": "D7", "v": 8.061, "p": -3.17}, {"c": "D7", "v": 7.994, "p": -3.107},
      {"c": "D7", "v": 7.927, "p": -3.17}, {"c": "D7", "v": 7.899, "p": -3.327}, {"c": "D7", "v": 7.927, "p": -3.48},
      {"c": "D7", "v": 7.994, "p": -3.547}, {"c": "D7", "v": 8.061, "p": -3.48}, {"c": "D7", "v": 8.089, "p": -3.327}
    ]
  },
  "vconcat": [
    {
      "width": 937, "height": 409,
      "layer": [
        {
          "data": {"name": "obs_solid"},
          "mark": {"type": "line", "color": "#9a9a9a", "strokeWidth": 1.5, "clip": true},
          "encoding": {
            "x": {"field": "v", "type": "quantitative", "scale": {"domain": [3.887, 9.447], "nice": false, "zero": false},
                  "axis": {"orient": "bottom", "values": [4, 4.5, 5, 5.5, 6, 6.5, 7, 7.5, 8, 8.5, 9], "tickSize": -8, "labels": false, "title": null}},
            "y": {"field": "p", "type": "quantitative", "scale": {"domain": [-3.72, 3.85], "nice": false, "zero": false},
                  "axis": {"orient": "left", "values": [-3, -2, -1, 0, 1, 2, 3], "tickSize": -5, "labelPadding": 15, "labelFlush": false, "labelOverlap": false,
                           "labelExpr": "datum.value % 2 === 0 ? '' + datum.value : ''", "title": null}},
            "detail": {"field": "c"},
            "order": {"value": null}
          }
        },
        {
          "data": {"name": "obs_dashed"},
          "mark": {"type": "line", "color": "#9a9a9a", "strokeWidth": 1.5, "strokeDash": [6, 5], "interpolate": "cardinal", "clip": true},
          "encoding": {
            "x": {"field": "v", "type": "quantitative", "scale": {"domain": [3.887, 9.447], "nice": false, "zero": false}, "axis": null},
            "y": {"field": "p", "type": "quantitative", "scale": {"domain": [-3.72, 3.85], "nice": false, "zero": false}, "axis": null},
            "detail": {"field": "c"},
            "order": {"value": null}
          }
        },
        {
          "data": {"values": [{"p": 0}]},
          "mark": {"type": "rule", "color": "#7a7a7a", "strokeWidth": 3, "strokeDash": [15, 12]},
          "encoding": {
            "y": {"field": "p", "type": "quantitative", "scale": {"domain": [-3.72, 3.85], "nice": false, "zero": false}, "axis": null}
          }
        },
        {
          "data": {"values": [{"v": 7}]},
          "mark": {"type": "rule", "color": "#3a3a3a", "strokeWidth": 2.5, "strokeDash": [18, 10]},
          "encoding": {
            "x": {"field": "v", "type": "quantitative", "scale": {"domain": [3.887, 9.447], "nice": false, "zero": false},
                  "axis": {"orient": "bottom", "values": [3.9, 4.1, 4.2, 4.3, 4.4, 4.6, 4.7, 4.8, 4.9, 5.1, 5.2, 5.3, 5.4, 5.6, 5.7, 5.8, 5.9, 6.1, 6.2, 6.3, 6.4, 6.6, 6.7, 6.8, 6.9, 7.1, 7.2, 7.3, 7.4, 7.6, 7.7, 7.8, 7.9, 8.1, 8.2, 8.3, 8.4, 8.6, 8.7, 8.8, 8.9, 9.1, 9.2, 9.3, 9.4], "tickSize": -4, "labels": false, "title": null}}
          }
        },
        {
          "data": {"name": "curve"},
          "mark": {"type": "line", "color": "#ff0000", "strokeWidth": 2, "interpolate": "monotone", "clip": true},
          "encoding": {
            "x": {"field": "v", "type": "quantitative", "scale": {"domain": [3.887, 9.447], "nice": false, "zero": false},
                  "axis": {"orient": "top", "values": [4, 4.5, 5, 5.5, 6, 6.5, 7, 7.5, 8, 8.5, 9], "tickSize": -8, "labels": false, "title": null}},
            "y": {"field": "p", "type": "quantitative", "scale": {"domain": [-3.72, 3.85], "nice": false, "zero": false},
                  "axis": {"orient": "right", "values": [-3, -2, -1, 0, 1, 2, 3], "tickSize": -5, "labels": false, "title": null}},
            "detail": {"field": "b"},
            "order": {"value": null}
          }
        },
        {
          "data": {"values": [{"v": 3.94, "p": 3.18, "t": "Observation"}]},
          "mark": {"type": "text", "align": "left", "baseline": "alphabetic", "fontSize": 32, "color": "#000000"},
          "encoding": {
            "x": {"field": "v", "type": "quantitative", "scale": {"domain": [3.887, 9.447], "nice": false, "zero": false},
                  "axis": {"orient": "top", "values": [3.9, 4.1, 4.2, 4.3, 4.4, 4.6, 4.7, 4.8, 4.9, 5.1, 5.2, 5.3, 5.4, 5.6, 5.7, 5.8, 5.9, 6.1, 6.2, 6.3, 6.4, 6.6, 6.7, 6.8, 6.9, 7.1, 7.2, 7.3, 7.4, 7.6, 7.7, 7.8, 7.9, 8.1, 8.2, 8.3, 8.4, 8.6, 8.7, 8.8, 8.9, 9.1, 9.2, 9.3, 9.4], "tickSize": -4, "labels": false, "title": null}},
            "y": {"field": "p", "type": "quantitative", "scale": {"domain": [-3.72, 3.85], "nice": false, "zero": false}, "axis": null},
            "text": {"field": "t"}
          }
        },
        {
          "data": {"values": [{"v": 9.145, "p": 1.66, "t": "Th"}, {"v": 9.145, "p": 0.26, "t": "the"}]},
          "mark": {"type": "text", "align": "left", "baseline": "alphabetic", "fontSize": 68, "font": "Open Sans", "color": "#000000"},
          "encoding": {
            "x": {"field": "v", "type": "quantitative", "scale": {"domain": [3.887, 9.447], "nice": false, "zero": false}, "axis": null},
            "y": {"field": "p", "type": "quantitative", "scale": {"domain": [-3.72, 3.85], "nice": false, "zero": false}, "axis": null},
            "text": {"field": "t"}
          }
        }
      ],
      "resolve": {"axis": {"x": "independent", "y": "independent"}}
    },
    {
      "width": 937, "height": 409,
      "layer": [
        {
          "data": {"name": "mod_solid"},
          "mark": {"type": "line", "color": "#9a9a9a", "strokeWidth": 1.5, "clip": true},
          "encoding": {
            "x": {"field": "v", "type": "quantitative", "scale": {"domain": [3.887, 9.447], "nice": false, "zero": false},
                  "axis": {"orient": "bottom", "values": [4, 4.5, 5, 5.5, 6, 6.5, 7, 7.5, 8, 8.5, 9], "tickSize": -8, "labels": false, "title": null}},
            "y": {"field": "p", "type": "quantitative", "scale": {"domain": [-3.72, 3.85], "nice": false, "zero": false},
                  "axis": {"orient": "left", "values": [-3, -2, -1, 0, 1, 2, 3], "tickSize": -5, "labelPadding": 15, "labelFlush": false, "labelOverlap": false,
                           "labelExpr": "datum.value % 2 === 0 ? '' + datum.value : ''", "title": null}},
            "detail": {"field": "c"},
            "order": {"value": null}
          }
        },
        {
          "data": {"values": [{"p": 0}]},
          "mark": {"type": "rule", "color": "#7a7a7a", "strokeWidth": 3, "strokeDash": [15, 12]},
          "encoding": {
            "y": {"field": "p", "type": "quantitative", "scale": {"domain": [-3.72, 3.85], "nice": false, "zero": false}, "axis": null}
          }
        },
        {
          "data": {"values": [{"v": 7}]},
          "mark": {"type": "rule", "color": "#3a3a3a", "strokeWidth": 2.5, "strokeDash": [18, 10]},
          "encoding": {
            "x": {"field": "v", "type": "quantitative", "scale": {"domain": [3.887, 9.447], "nice": false, "zero": false},
                  "axis": {"orient": "bottom", "values": [3.9, 4.1, 4.2, 4.3, 4.4, 4.6, 4.7, 4.8, 4.9, 5.1, 5.2, 5.3, 5.4, 5.6, 5.7, 5.8, 5.9, 6.1, 6.2, 6.3, 6.4, 6.6, 6.7, 6.8, 6.9, 7.1, 7.2, 7.3, 7.4, 7.6, 7.7, 7.8, 7.9, 8.1, 8.2, 8.3, 8.4, 8.6, 8.7, 8.8, 8.9, 9.1, 9.2, 9.3, 9.4], "tickSize": -4, "labels": false, "title": null}}
          }
        },
        {
          "data": {"name": "curve"},
          "mark": {"type": "line", "color": "#ff0000", "strokeWidth": 2, "interpolate": "monotone", "clip": true},
          "encoding": {
            "x": {"field": "v", "type": "quantitative", "scale": {"domain": [3.887, 9.447], "nice": false, "zero": false},
                  "axis": {"orient": "top", "values": [4, 4.5, 5, 5.5, 6, 6.5, 7, 7.5, 8, 8.5, 9], "tickSize": -8, "labels": false, "title": null}},
            "y": {"field": "p", "type": "quantitative", "scale": {"domain": [-3.72, 3.85], "nice": false, "zero": false},
                  "axis": {"orient": "right", "values": [-3, -2, -1, 0, 1, 2, 3], "tickSize": -5, "labels": false, "title": null}},
            "detail": {"field": "b"},
            "order": {"value": null}
          }
        },
        {
          "data": {"values": [{"v": 3.98, "p": 3.05, "t": "Model"}]},
          "mark": {"type": "text", "align": "left", "baseline": "alphabetic", "fontSize": 32, "color": "#000000"},
          "encoding": {
            "x": {"field": "v", "type": "quantitative", "scale": {"domain": [3.887, 9.447], "nice": false, "zero": false},
                  "axis": {"orient": "top", "values": [3.9, 4.1, 4.2, 4.3, 4.4, 4.6, 4.7, 4.8, 4.9, 5.1, 5.2, 5.3, 5.4, 5.6, 5.7, 5.8, 5.9, 6.1, 6.2, 6.3, 6.4, 6.6, 6.7, 6.8, 6.9, 7.1, 7.2, 7.3, 7.4, 7.6, 7.7, 7.8, 7.9, 8.1, 8.2, 8.3, 8.4, 8.6, 8.7, 8.8, 8.9, 9.1, 9.2, 9.3, 9.4], "tickSize": -4, "labels": false, "title": null}},
            "y": {"field": "p", "type": "quantitative", "scale": {"domain": [-3.72, 3.85], "nice": false, "zero": false}, "axis": null},
            "text": {"field": "t"}
          }
        }
      ],
      "resolve": {"axis": {"x": "independent", "y": "independent"}}
    },
    {
      "width": 937, "height": 409,
      "layer": [
        {
          "data": {"name": "res_solid"},
          "mark": {"type": "line", "color": "#9a9a9a", "strokeWidth": 1.5, "clip": true},
          "encoding": {
            "x": {"field": "v", "type": "quantitative", "scale": {"domain": [3.887, 9.447], "nice": false, "zero": false},
                  "axis": {"orient": "bottom", "values": [4, 4.5, 5, 5.5, 6, 6.5, 7, 7.5, 8, 8.5, 9], "tickSize": -8, "labelPadding": 20, "labelFlush": false, "labelOverlap": false,
                           "labelExpr": "datum.value % 1 === 0 ? '' + datum.value : ''",
                           "title": "LSR Velocity (km s⁻¹)", "titleY": 77, "titleBaseline": "alphabetic"}},
            "y": {"field": "p", "type": "quantitative", "scale": {"domain": [-3.72, 3.85], "nice": false, "zero": false},
                  "axis": {"orient": "left", "values": [-3, -2, -1, 0, 1, 2, 3], "tickSize": -5, "labelPadding": 15, "labelFlush": false, "labelOverlap": false,
                           "labelExpr": "datum.value % 2 === 0 ? '' + datum.value : ''",
                           "title": "Position (arcsec)", "titleX": -58, "titleY": 204.5, "titleAngle": -90, "titleAlign": "center", "titleBaseline": "bottom"}},
            "detail": {"field": "c"},
            "order": {"value": null}
          }
        },
        {
          "data": {"name": "res_dashed"},
          "mark": {"type": "line", "color": "#9a9a9a", "strokeWidth": 1.5, "strokeDash": [6, 5], "interpolate": "cardinal", "clip": true},
          "encoding": {
            "x": {"field": "v", "type": "quantitative", "scale": {"domain": [3.887, 9.447], "nice": false, "zero": false}, "axis": null},
            "y": {"field": "p", "type": "quantitative", "scale": {"domain": [-3.72, 3.85], "nice": false, "zero": false}, "axis": null},
            "detail": {"field": "c"},
            "order": {"value": null}
          }
        },
        {
          "data": {"values": [{"p": 0}]},
          "mark": {"type": "rule", "color": "#7a7a7a", "strokeWidth": 3, "strokeDash": [15, 12]},
          "encoding": {
            "y": {"field": "p", "type": "quantitative", "scale": {"domain": [-3.72, 3.85], "nice": false, "zero": false}, "axis": null}
          }
        },
        {
          "data": {"values": [{"v": 7}]},
          "mark": {"type": "rule", "color": "#3a3a3a", "strokeWidth": 2.5, "strokeDash": [18, 10]},
          "encoding": {
            "x": {"field": "v", "type": "quantitative", "scale": {"domain": [3.887, 9.447], "nice": false, "zero": false},
                  "axis": {"orient": "bottom", "values": [3.9, 4.1, 4.2, 4.3, 4.4, 4.6, 4.7, 4.8, 4.9, 5.1, 5.2, 5.3, 5.4, 5.6, 5.7, 5.8, 5.9, 6.1, 6.2, 6.3, 6.4, 6.6, 6.7, 6.8, 6.9, 7.1, 7.2, 7.3, 7.4, 7.6, 7.7, 7.8, 7.9, 8.1, 8.2, 8.3, 8.4, 8.6, 8.7, 8.8, 8.9, 9.1, 9.2, 9.3, 9.4], "tickSize": -4, "labels": false, "title": null}}
          }
        },
        {
          "data": {"name": "curve"},
          "mark": {"type": "line", "color": "#ff0000", "strokeWidth": 2, "interpolate": "monotone", "clip": true},
          "encoding": {
            "x": {"field": "v", "type": "quantitative", "scale": {"domain": [3.887, 9.447], "nice": false, "zero": false},
                  "axis": {"orient": "top", "values": [4, 4.5, 5, 5.5, 6, 6.5, 7, 7.5, 8, 8.5, 9], "tickSize": -8, "labels": false, "title": null}},
            "y": {"field": "p", "type": "quantitative", "scale": {"domain": [-3.72, 3.85], "nice": false, "zero": false},
                  "axis": {"orient": "right", "values": [-3, -2, -1, 0, 1, 2, 3], "tickSize": -5, "labels": false, "title": null}},
            "detail": {"field": "b"},
            "order": {"value": null}
          }
        },
        {
          "data": {"values": [{"v": 3.94, "p": 3.2, "t": "Residual"}]},
          "mark": {"type": "text", "align": "left", "baseline": "alphabetic", "fontSize": 32, "color": "#000000"},
          "encoding": {
            "x": {"field": "v", "type": "quantitative", "scale": {"domain": [3.887, 9.447], "nice": false, "zero": false},
                  "axis": {"orient": "top", "values": [3.9, 4.1, 4.2, 4.3, 4.4, 4.6, 4.7, 4.8, 4.9, 5.1, 5.2, 5.3, 5.4, 5.6, 5.7, 5.8, 5.9, 6.1, 6.2, 6.3, 6.4, 6.6, 6.7, 6.8, 6.9, 7.1, 7.2, 7.3, 7.4, 7.6, 7.7, 7.8, 7.9, 8.1, 8.2, 8.3, 8.4, 8.6, 8.7, 8.8, 8.9, 9.1, 9.2, 9.3, 9.4], "tickSize": -4, "labels": false, "title": null}},
            "y": {"field": "p", "type": "quantitative", "scale": {"domain": [-3.72, 3.85], "nice": false, "zero": false}, "axis": null},
            "text": {"field": "t"}
          }
        }
      ],
      "resolve": {"axis": {"x": "independent", "y": "independent"}}
    }
  ]
}
